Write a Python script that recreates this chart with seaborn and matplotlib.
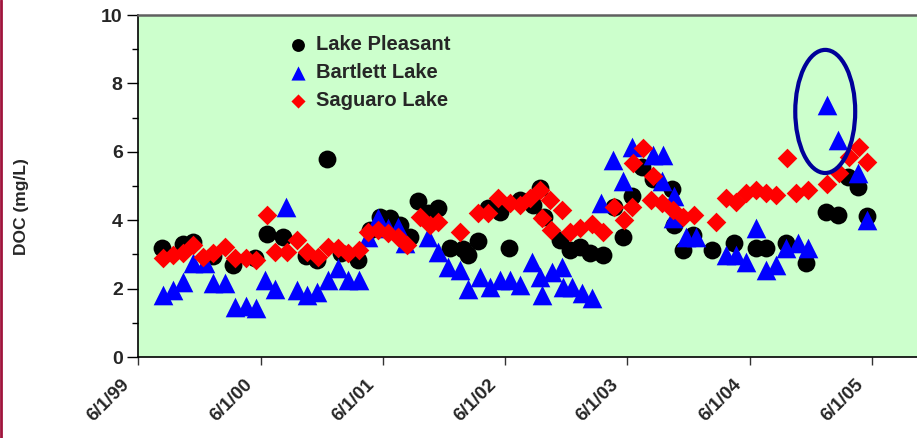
import matplotlib
matplotlib.use("Agg")
import matplotlib.pyplot as plt
import matplotlib.dates as mdates
import matplotlib.transforms as mtransforms
from matplotlib.patches import Ellipse
from matplotlib.lines import Line2D
from matplotlib.ticker import MultipleLocator
import seaborn as sns
import pandas as pd

# ---------------- data ----------------
pleasant_dates = ["1999-08-12", "1999-10-13", "1999-11-12", "2000-01-11", "2000-03-11", "2000-05-15",
                  "2000-06-19", "2000-08-08", "2000-10-14", "2000-11-17", "2000-12-17", "2001-01-28",
                  "2001-03-18", "2001-04-24", "2001-05-24", "2001-06-22", "2001-07-22", "2001-08-21",
                  "2001-09-14", "2001-10-14", "2001-11-13", "2001-12-19", "2002-01-27", "2002-02-11",
                  "2002-03-13", "2002-04-12", "2002-05-18", "2002-06-13", "2002-07-16", "2002-08-24",
                  "2002-09-14", "2002-09-24", "2002-11-13", "2002-12-13", "2003-01-12", "2003-02-11",
                  "2003-03-19", "2003-04-21", "2003-05-18", "2003-06-16", "2003-07-16", "2003-08-18",
                  "2003-10-12", "2003-10-17", "2003-11-15", "2003-12-15", "2004-02-10", "2004-04-14",
                  "2004-06-19", "2004-07-19", "2004-09-17", "2004-11-16", "2005-01-15", "2005-02-20",
                  "2005-03-22", "2005-04-21", "2005-05-17"]
pleasant_doc = [3.2, 3.3, 3.35, 2.95, 2.7, 2.9,
                3.6, 3.5, 2.95, 2.85, 5.8, 3.05,
                2.85, 3.7, 4.1, 4.05, 3.85, 3.5,
                4.55, 4.2, 4.35, 3.2, 3.15, 2.98,
                3.4, 4.35, 4.25, 3.18, 4.6, 4.45,
                4.95, 4.1, 3.42, 3.13, 3.23, 3.05,
                2.98, 4.4, 3.5, 4.7, 5.55, 5.2,
                4.9, 3.85, 3.13, 3.57, 3.13, 3.33,
                3.2, 3.2, 3.33, 2.75, 4.24, 4.15,
                5.26, 4.97, 4.12]

bartlett_dates = ["1999-08-15", "1999-09-14", "1999-10-14", "1999-11-13", "1999-12-19", "2000-01-12",
                  "2000-02-17", "2000-03-18", "2000-04-17", "2000-05-17", "2000-06-15", "2000-07-15",
                  "2000-08-17", "2000-09-19", "2000-10-19", "2000-11-15", "2000-12-18", "2001-01-17",
                  "2001-02-16", "2001-03-21", "2001-04-17", "2001-05-17", "2001-06-16", "2001-07-16",
                  "2001-08-06", "2001-10-14", "2001-11-13", "2001-12-13", "2002-01-18", "2002-02-11",
                  "2002-03-19", "2002-04-18", "2002-05-18", "2002-06-16", "2002-07-16", "2002-08-21",
                  "2002-09-14", "2002-09-20", "2002-10-20", "2002-11-19", "2002-11-22", "2002-12-19",
                  "2003-01-18", "2003-02-17", "2003-03-13", "2003-04-18", "2003-05-18", "2003-06-16",
                  "2003-08-18", "2003-09-17", "2003-09-14", "2003-10-17", "2003-10-14", "2003-11-22",
                  "2003-12-22", "2004-03-22", "2004-04-21", "2004-05-21", "2004-06-19", "2004-07-19",
                  "2004-08-18", "2004-09-17", "2004-10-23", "2004-11-22", "2005-01-18", "2005-02-20",
                  "2005-04-21", "2005-05-17"]
bartlett_doc = [1.8, 1.95, 2.2, 2.75, 2.75, 2.15,
                2.15, 1.47, 1.5, 1.42, 2.25, 2.0,
                4.38, 1.95, 1.8, 1.9, 2.25, 2.6,
                2.25, 2.25, 3.5, 4.05, 3.77, 3.8,
                3.33, 3.5, 3.07, 2.63, 2.55, 2.0,
                2.35, 2.05, 2.25, 2.25, 2.1, 2.78,
                2.35, 1.8, 2.5, 2.63, 2.05, 2.05,
                1.87, 1.72, 4.5, 5.76, 5.15, 6.15,
                5.9, 5.9, 5.15, 4.7, 4.06, 3.5,
                3.52, 2.98, 2.98, 2.78, 3.77, 2.54,
                2.69, 3.2, 3.33, 3.18, 7.37, 6.35,
                5.38, 4.0]

saguaro_dates = ["1999-08-15", "1999-09-14", "1999-10-14", "1999-11-13", "1999-12-13", "2000-01-12",
                 "2000-02-17", "2000-03-18", "2000-04-17", "2000-05-17", "2000-06-19", "2000-07-15",
                 "2000-08-20", "2000-09-19", "2000-10-19", "2000-11-18", "2000-12-18", "2001-01-17",
                 "2001-02-16", "2001-03-21", "2001-04-17", "2001-05-17", "2001-06-16", "2001-07-16",
                 "2001-08-12", "2001-09-20", "2001-10-20", "2001-11-13", "2002-01-18", "2002-03-13",
                 "2002-04-12", "2002-05-12", "2002-06-16", "2002-07-16", "2002-08-15", "2002-09-14",
                 "2002-09-20", "2002-10-14", "2002-10-16", "2002-11-19", "2002-12-13", "2003-01-12",
                 "2003-02-17", "2003-03-19", "2003-04-21", "2003-05-21", "2003-06-16", "2003-06-19",
                 "2003-07-19", "2003-08-18", "2003-08-12", "2003-09-14", "2003-10-14", "2003-11-13",
                 "2003-12-16", "2004-02-20", "2004-03-22", "2004-04-21", "2004-05-21", "2004-06-19",
                 "2004-07-19", "2004-08-18", "2004-09-20", "2004-10-17", "2004-11-22", "2005-01-18",
                 "2005-02-23", "2005-03-25", "2005-04-24", "2005-05-17"]
saguaro_doc = [2.9, 2.98, 3.04, 3.27, 2.93, 3.04,
               3.22, 2.9, 2.9, 2.84, 4.15, 3.07,
               3.07, 3.42, 3.07, 2.93, 3.22, 3.18,
               3.04, 3.13, 3.65, 3.71, 3.62, 3.5,
               3.27, 4.1, 3.85, 3.95, 3.65, 4.2,
               4.2, 4.65, 4.5, 4.45, 4.65, 4.88,
               4.06, 4.6, 3.71, 4.3, 3.65, 3.77,
               3.9, 3.65, 4.4, 4.0, 4.4, 5.66,
               6.1, 5.3, 4.6, 4.5, 4.3, 4.1,
               4.15, 3.95, 4.65, 4.53, 4.8, 4.88,
               4.8, 4.74, 5.82, 4.8, 4.88, 5.06,
               5.38, 5.85, 6.14, 5.7]

series_names = ["Lake Pleasant", "Bartlett Lake", "Saguaro Lake"]
tick_dates = ["1999-06-01", "2000-06-01", "2001-06-01", "2002-06-01", "2003-06-01", "2004-06-01", "2005-06-01"]
tick_labels = ["6/1/99", "6/1/00", "6/1/01", "6/1/02", "6/1/03", "6/1/04", "6/1/05"]
y_label = "DOC (mg/L)"

# --------------- figure ---------------
sns.set_style("white")
plt.rcParams["font.family"] = ["Liberation Sans", "DejaVu Sans"]
plt.rcParams["font.weight"] = "bold"

fig = plt.figure(figsize=(9.17, 4.38), dpi=100)
ax = fig.add_axes([138 / 917, 81 / 438, 779 / 917, 342 / 438])
ax.set_facecolor("#CCFFCC")

df_p = pd.DataFrame({"date": pd.to_datetime(pleasant_dates), "doc": pleasant_doc})
df_b = pd.DataFrame({"date": pd.to_datetime(bartlett_dates), "doc": bartlett_doc})
df_s = pd.DataFrame({"date": pd.to_datetime(saguaro_dates), "doc": saguaro_doc})

sns.scatterplot(data=df_p, x="date", y="doc", ax=ax, color="black", marker="o", s=165,
                linewidth=0, label=series_names[0], zorder=3)
sns.scatterplot(data=df_b, x="date", y="doc", ax=ax, color="#0000FF", marker="^", s=200,
                linewidth=0, label=series_names[1], zorder=4)
sns.scatterplot(data=df_s, x="date", y="doc", ax=ax, color="#FF0000", marker="D", s=100,
                linewidth=0, label=series_names[2], zorder=5)

# axes limits and ticks
x0 = mdates.date2num(pd.Timestamp("1999-06-01"))
x1 = mdates.date2num(pd.Timestamp("2005-10-13"))
ax.set_xlim(x0, x1)
ax.set_ylim(0, 10)
ax.set_xticks(mdates.date2num(pd.to_datetime(tick_dates)))
ax.set_xticklabels(tick_labels, rotation=45, ha="right", va="top")
ax.yaxis.set_major_locator(MultipleLocator(2))
ax.yaxis.set_minor_locator(MultipleLocator(1))
ax.tick_params(axis="y", which="major", direction="out", length=8, width=1, color="black",
               pad=3, left=True, labelsize=14)
ax.tick_params(axis="y", which="minor", direction="out", length=4, width=1, color="black", left=True)
ax.tick_params(axis="x", which="major", direction="out", length=6, width=1, color="#333333",
               pad=8, bottom=True, labelsize=13.5)
ax.set_xlabel("")
ax.set_ylabel("")
shift = mtransforms.ScaledTranslation(-5 / 100, 0, fig.dpi_scale_trans)
for lbl in ax.get_xticklabels():
    lbl.set_transform(lbl.get_transform() + shift)

for side in ["left", "bottom"]:
    ax.spines[side].set_color("black")
    ax.spines[side].set_linewidth(1.2)
ax.spines["top"].set_color("#606060")
ax.spines["top"].set_linewidth(1.8)
ax.spines["right"].set_visible(False)

fig.text(22 / 917, 1 - 207 / 438, y_label, rotation=90, ha="center", va="center",
         fontsize=12.5, fontweight="bold")

# highlight ellipse around the Bartlett Lake peak
ec = mdates.date2num(pd.Timestamp("2005-01-12"))
ell = Ellipse((ec, 7.18), width=179, height=3.6, fill=False, edgecolor="#000099",
              linewidth=3, zorder=6)
ax.add_patch(ell)

# legend
leg = ax.legend(loc="upper left", bbox_to_anchor=(277 / 917, 1 - 25 / 438),
                bbox_transform=fig.transFigure, frameon=False, markerscale=0.72,
                handletextpad=0.35, labelspacing=0.44, borderpad=0, handlelength=1.1,
                prop={"weight": "bold", "size": 14.5})

# left decorative rule
fig.add_artist(Line2D([1.2 / 917, 1.2 / 917], [0, 1], transform=fig.transFigure,
                      color="#A0143C", linewidth=2))

fig.savefig("out.png", dpi=100)
